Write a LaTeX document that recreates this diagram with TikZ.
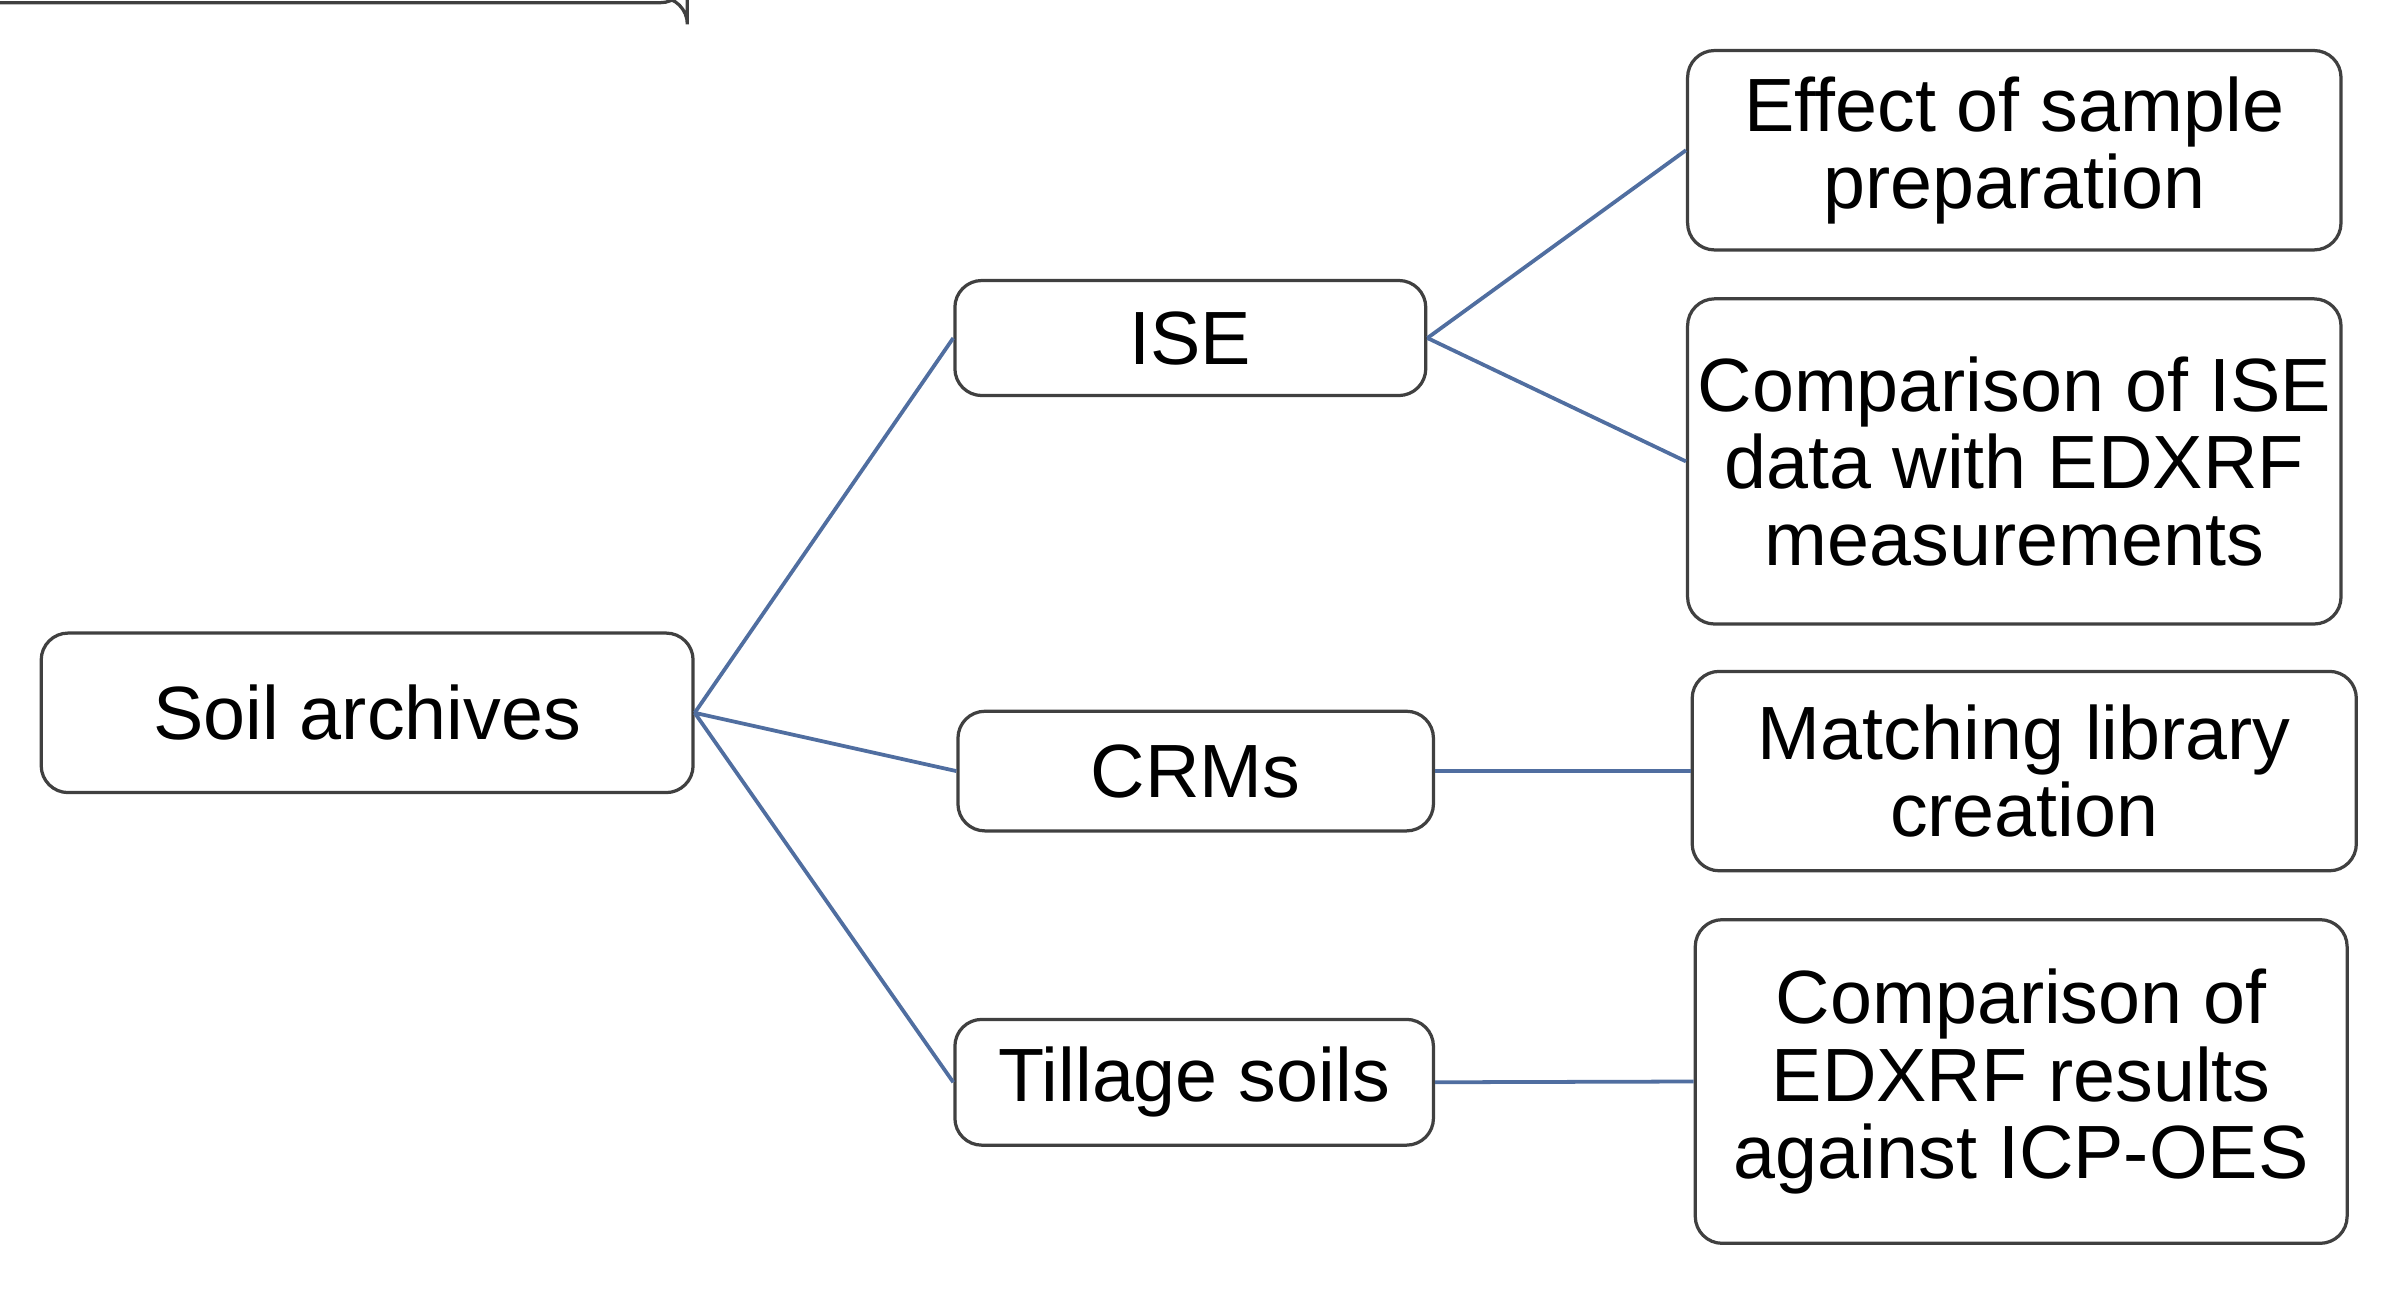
\documentclass[tikz,border=0pt]{standalone}
\usepackage{fontspec}
\setmainfont{Liberation Sans}
\begin{document}
\begin{tikzpicture}[x=0.01cm,y=-0.01cm,
  box/.style={draw=black!75,line width=0.6pt,rounded corners=5pt,align=center,font=\fontsize{14}{14.3}\selectfont,inner sep=0pt},
  link/.style={draw={rgb,255:red,80;green,110;blue,160},line width=0.7pt}]
\useasboundingbox (0,0) rectangle (1563,854);
\node[box,minimum width=425\pgflinewidth] at (0,0) {};
\node[box,minimum width=4.25cm,minimum height=1.04cm] (soil) at (239.5,465) {Soil archives};
\node[box,minimum width=3.07cm,minimum height=0.75cm] (ise) at (776.5,220.5) {ISE};
\node[box,minimum width=3.10cm,minimum height=0.78cm] (crm) at (780,503) {CRMs};
\node[box,minimum width=3.12cm,minimum height=0.82cm] (till) at (779,706) {Tillage soils};
\node[box,minimum width=4.26cm,minimum height=1.30cm] (eff) at (1314,98) {Effect of sample\\preparation};
\node[box,minimum width=4.26cm,minimum height=2.12cm] (cmp) at (1314,301) {Comparison of ISE\\data with EDXRF\\measurements};
\node[box,minimum width=4.33cm,minimum height=1.30cm] (mat) at (1320.5,503) {Matching library\\creation};
\node[box,minimum width=4.25cm,minimum height=2.11cm] (cmp2) at (1318.5,705.5) {Comparison of\\EDXRF results\\against ICP-OES};
\draw[link] (soil.east) -- (ise.west);
\draw[link] (soil.east) -- (crm.west);
\draw[link] (soil.east) -- (till.west);
\draw[link] (ise.east) -- (eff.west);
\draw[link] (ise.east) -- (cmp.west);
\draw[link] (crm.east) -- (mat.west);
\draw[link] (till.east) -- (cmp2.west);
\end{tikzpicture}
\end{document}
